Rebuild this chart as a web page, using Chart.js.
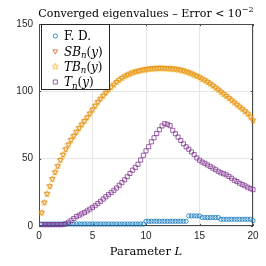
<!DOCTYPE html>
<html><head><meta charset="utf-8">
<script src="https://cdn.jsdelivr.net/npm/chart.js@4"></script>
<style>html,body{margin:0;padding:0;background:#fff}#c{display:block}</style>
</head><body>
<canvas id="c" width="266" height="266" style="width:266px;height:266px"></canvas>
<script>
// ---------- data ----------
const L = [0.25,0.5,0.75,1,1.25,1.5,1.75,2,2.25,2.5,2.75,3,3.25,3.5,3.75,4,4.25,4.5,4.75,5,
5.25,5.5,5.75,6,6.25,6.5,6.75,7,7.25,7.5,7.75,8,8.25,8.5,8.75,9,9.25,9.5,9.75,10,
10.25,10.5,10.75,11,11.25,11.5,11.75,12,12.25,12.5,12.75,13,13.25,13.5,13.75,14,14.25,14.5,14.75,15,
15.25,15.5,15.75,16,16.25,16.5,16.75,17,17.25,17.5,17.75,18,18.25,18.5,18.75,19,19.25,19.5,19.75,20];

const FD = [1.5,1.5,1.5,1.5,1.5,1.5,1.5,1.5,1.5,1.5,1.5,1.5,1.5,1.5,1.5,1.5,1.5,1.5,1.5,1.5,
1.5,1.5,1.5,1.5,1.5,1.5,1.5,1.5,1.5,1.5,1.5,1.5,1.5,1.5,1.5,1.5,1.5,1.5,1.5,3.5,
3.5,3.5,3.5,3.5,3.5,3.5,3.5,3.5,3.5,3.5,3.5,3.5,3.5,3.5,3.5,7.5,7.5,7.5,7.5,7.5,
6.3,6.3,6.3,6.3,6.3,6.3,6.3,5.0,5.0,5.0,5.0,5.0,5.0,5.0,5.0,5.0,5.0,5.0,5.0,4.0];

const SB = [10,17.5,24,29.6,35,40,44.5,49,53,57,60.5,64,67,70,72.8,75.5,78,80.7,83.6,86.5,
89.4,92.2,94.6,96.9,99.1,101.2,103.2,105.1,107,108.6,110,111.2,112.3,113.2,114,114.7,115.3,115.8,116.2,116.6,
116.9,117.1,117.3,117.4,117.5,117.5,117.4,117.3,117.2,117.0,116.8,116.5,116.0,115.5,114.8,114.1,113.3,112.4,111.5,110.5,
109.4,108.3,107.1,105.8,104.4,102.8,101.3,99.7,98.1,96.6,95.0,93.4,91.8,90.2,88.6,87.0,85.3,83.5,81.2,78.5];

const TB = [10,17.5,24,29.6,35,40,44.5,49,53,57,60.5,64,67,70,72.8,75.5,78,80.7,83.6,86.5,
89.4,92.2,94.6,96.9,99.1,101.2,103.2,105.1,107,108.6,110,111.2,112.3,113.2,114,114.6,115.1,115.6,116.0,116.3,
116.6,116.8,117.0,117.1,117.2,117.2,117.1,117.0,116.9,116.7,116.5,116.2,115.8,115.3,114.7,114.0,113.2,112.3,111.4,110.4,
109.3,108.2,107.0,105.7,104.3,102.8,101.3,99.7,98.1,96.6,95.0,93.4,91.8,90.2,88.6,87.0,85.3,83.5,81.2,78.5];

const Tn = [1.0,1.0,1.0,1.0,1.0,1.0,1.0,1.0,1.1,1.6,2.8,4.2,5.6,7.0,8.0,9.0,10.0,11.2,12.5,13.8,
15.1,16.7,18.3,20.0,21.7,23.3,24.9,26.5,28.2,30.2,32.2,34.3,36.6,39.0,41.5,43.5,45.8,49.0,52.5,55.8,
58.9,62.5,65.5,68.7,71.5,74.3,76.0,75.5,74.5,71.0,68.5,66.0,63.5,61.0,58.8,57.0,55.0,53.0,50.5,48.8,
47.5,46.5,45.3,44.2,43.0,41.8,40.6,39.5,38.8,38.0,36.8,35.5,34.0,33.0,31.8,30.8,29.8,28.8,27.8,27.0];

const xTicks = [0,5,10,15,20];
const yTicks = [0,50,100,150];
const seriesNames = ['F. D.','SB_n(y)','TB_n(y)','T_n(y)'];
const titleText = 'Converged eigenvalues – Error < 10';
const titleExp = '−2';
const xTitleText = 'Parameter ';
const xTitleVar = 'L';

// ---------- styles ----------
const COL = ['#0072BD','#D95319','#EDB120','#7E2F8E'];
const SERIF = '"DejaVu Serif", "Liberation Serif", serif';
const SANS = '"Liberation Sans", Arial, sans-serif';
const LW = 0.75;

function starCanvas(color){
  const c = document.createElement('canvas'); c.width = 10; c.height = 10;
  const g = c.getContext('2d');
  const R = 3.4, r = R*0.40, cx = 5, cy = 5.3;
  g.beginPath();
  for (let k=0;k<10;k++){
    const a = -Math.PI/2 + k*Math.PI/5, rr = k%2===0?R:r;
    const px = cx + rr*Math.cos(a), py = cy + rr*Math.sin(a);
    k===0 ? g.moveTo(px,py) : g.lineTo(px,py);
  }
  g.closePath(); g.strokeStyle = color; g.lineWidth = LW; g.stroke();
  return c;
}
const starImg = starCanvas(COL[2]);
const RAD = [2.1, 2.8, 3.2, 2.9];

const pts = arr => L.map((x,i)=>({x:x, y:arr[i]}));
const base = {showLine:false, clip:false, backgroundColor:'rgba(0,0,0,0)', pointBackgroundColor:'rgba(0,0,0,0)', pointBorderWidth:LW, borderWidth:LW, pointHoverRadius:3};
const datasets = [
  Object.assign({}, base, {label:seriesNames[0], data:pts(FD), pointStyle:'circle', pointRadius:RAD[0], borderColor:COL[0], pointBorderColor:COL[0], order:3}),
  Object.assign({}, base, {label:seriesNames[1], data:pts(SB), pointStyle:'triangle', pointRotation:180, pointRadius:RAD[1], borderColor:COL[1], pointBorderColor:COL[1], order:2}),
  Object.assign({}, base, {label:seriesNames[2], data:pts(TB), pointStyle:starImg, pointRadius:RAD[2], borderColor:COL[2], pointBorderColor:COL[2], order:1}),
  Object.assign({}, base, {label:seriesNames[3], data:pts(Tn), pointStyle:'rect', pointRadius:RAD[3], borderColor:COL[3], pointBorderColor:COL[3], order:0})
];

// ---------- text helpers ----------
function fontOf(r){ return (r.it?'italic ':'') + r.s + 'px ' + SERIF; }
function runsWidth(ctx, runs){ let w=0; runs.forEach(r=>{ctx.font=fontOf(r); w+=ctx.measureText(r.t).width;}); return w; }
function drawRuns(ctx, x, y, runs){
  ctx.textBaseline='alphabetic'; ctx.textAlign='left';
  runs.forEach(r=>{ ctx.font=fontOf(r); ctx.fillText(r.t, x, y+(r.dy||0)); x += ctx.measureText(r.t).width; });
}
function mathLabel(name, s){
  const m = name.match(/^(\w+)_(\w)\((\w)\)$/);
  if(!m) return [{t:name, it:false, s:s}];
  return [{t:m[1], it:true, s:s},{t:m[2], it:true, s:s*0.72, dy:2.5},{t:'(', it:false, s:s},{t:m[3], it:true, s:s},{t:')', it:false, s:s}];
}

function drawMarker(ctx, i, x, y){
  ctx.save(); ctx.strokeStyle = COL[i]; ctx.lineWidth = LW; ctx.beginPath();
  if(i===0){ ctx.arc(x,y,RAD[0],0,Math.PI*2); ctx.stroke(); }
  else if(i===1){ const r=RAD[1]; ctx.moveTo(x, y+r); ctx.lineTo(x - r*Math.sin(Math.PI/3), y - r*0.5); ctx.lineTo(x + r*Math.sin(Math.PI/3), y - r*0.5); ctx.closePath(); ctx.stroke(); }
  else if(i===2){ ctx.drawImage(starImg, x-starImg.width/2, y-starImg.height/2); }
  else { const h=RAD[3]/Math.SQRT2; ctx.rect(x-h,y-h,2*h,2*h); ctx.stroke(); }
  ctx.restore();
}

const decor = {
  id:'decor',
  beforeDatasetsDraw(chart){
    const {ctx, chartArea:a, scales} = chart;
    ctx.save();
    ctx.strokeStyle = '#4a4a4a'; ctx.lineWidth = 1;
    ctx.strokeRect(a.left+0.5, a.top+0.5, a.right-a.left-1, a.bottom-a.top-1);
    ctx.beginPath();
    const tl = 2.2;
    xTicks.forEach(v=>{ const px = Math.round(scales.x.getPixelForValue(v))+0.5;
      ctx.moveTo(px, a.bottom); ctx.lineTo(px, a.bottom-tl); ctx.moveTo(px, a.top); ctx.lineTo(px, a.top+tl); });
    yTicks.forEach(v=>{ const py = Math.round(scales.y.getPixelForValue(v))+0.5;
      ctx.moveTo(a.left, py); ctx.lineTo(a.left+tl, py); ctx.moveTo(a.right, py); ctx.lineTo(a.right-tl, py); });
    ctx.stroke();
    ctx.restore();
  },
  afterDatasetsDraw(chart){
    const {ctx, chartArea:a} = chart;
    ctx.save();
    const bx = a.left+2.5, by = a.top+0.5, bw = 68, bh = 65;
    ctx.fillStyle = '#fff'; ctx.fillRect(bx, by, bw, bh);
    ctx.strokeStyle = '#262626'; ctx.lineWidth = 1; ctx.strokeRect(bx, by, bw, bh);
    const rows = [36, 51.3, 66.3, 82];
    ctx.fillStyle = '#000';
    seriesNames.forEach((n,i)=>{
      drawMarker(ctx, i, 55.3, rows[i]);
      drawRuns(ctx, 64, rows[i]+4.3, mathLabel(n, 12));
    });
    ctx.restore();
  },
  afterDraw(chart){
    const {ctx, chartArea:a} = chart;
    ctx.save(); ctx.fillStyle = '#000';
    const cx = (a.left+a.right)/2;
    const t = [{t:titleText, it:false, s:11},{t:titleExp, it:false, s:8, dy:-4.5}];
    drawRuns(ctx, cx - runsWidth(ctx,t)/2, 16.8, t);
    const xt = [{t:xTitleText, it:false, s:11.5},{t:xTitleVar, it:true, s:11.5}];
    drawRuns(ctx, cx - runsWidth(ctx,xt)/2, 255, xt);
    ctx.restore();
  }
};

const tickFont = {family:SANS, size:10};
new Chart(document.getElementById('c'), {
  type:'scatter',
  data:{datasets:datasets},
  plugins:[decor],
  options:{
    responsive:false, animation:false, devicePixelRatio:1,
    layout:{padding:{top:24, right:13, left:0, bottom:0}},
    plugins:{legend:{display:false}, title:{display:false}, tooltip:{enabled:false}},
    scales:{
      x:{type:'linear', min:0, max:20,
         afterBuildTicks:s=>{ s.ticks = xTicks.map(v=>({value:v})); },
         afterFit:s=>{ s.height = 40; },
         grid:{color:'#e6e6e6', lineWidth:1, drawTicks:false},
         border:{display:false},
         ticks:{padding:4.5, color:'#262626', font:tickFont, maxRotation:0, autoSkip:false}},
      y:{type:'linear', min:0, max:150,
         afterBuildTicks:s=>{ s.ticks = yTicks.map(v=>({value:v})); },
         afterFit:s=>{ s.width = 39; },
         grid:{color:'#e6e6e6', lineWidth:1, drawTicks:false},
         border:{display:false},
         ticks:{padding:6, color:'#262626', font:tickFont, autoSkip:false}}
    }
  }
});
</script>
</body></html>
